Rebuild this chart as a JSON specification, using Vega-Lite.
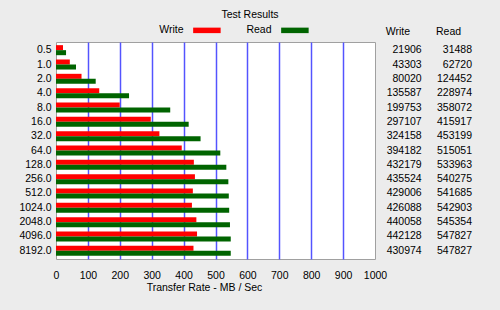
{
  "$schema": "https://vega.github.io/schema/vega-lite/v6.json",
  "width": 319,
  "height": 217,
  "autosize": {"type": "none"},
  "padding": {"left": 56, "top": 42, "right": 125, "bottom": 51},
  "background": "#ececec",
  "title": {"text": "Test Results", "anchor": "middle", "frame": "group", "dx": 34.5, "fontSize": 10.5, "fontWeight": "normal", "font": "Liberation Sans", "color": "black", "baseline": "middle", "offset": 0},
  "data": {"values": [
    {"size": "0.5", "series": "Write", "value": 21906}, {"size": "0.5", "series": "Read", "value": 31488},
    {"size": "1.0", "series": "Write", "value": 43303}, {"size": "1.0", "series": "Read", "value": 62720},
    {"size": "2.0", "series": "Write", "value": 80020}, {"size": "2.0", "series": "Read", "value": 124452},
    {"size": "4.0", "series": "Write", "value": 135587}, {"size": "4.0", "series": "Read", "value": 228974},
    {"size": "8.0", "series": "Write", "value": 199753}, {"size": "8.0", "series": "Read", "value": 358072},
    {"size": "16.0", "series": "Write", "value": 297107}, {"size": "16.0", "series": "Read", "value": 415917},
    {"size": "32.0", "series": "Write", "value": 324158}, {"size": "32.0", "series": "Read", "value": 453199},
    {"size": "64.0", "series": "Write", "value": 394182}, {"size": "64.0", "series": "Read", "value": 515051},
    {"size": "128.0", "series": "Write", "value": 432179}, {"size": "128.0", "series": "Read", "value": 533963},
    {"size": "256.0", "series": "Write", "value": 435524}, {"size": "256.0", "series": "Read", "value": 540275},
    {"size": "512.0", "series": "Write", "value": 429006}, {"size": "512.0", "series": "Read", "value": 541685},
    {"size": "1024.0", "series": "Write", "value": 426088}, {"size": "1024.0", "series": "Read", "value": 542903},
    {"size": "2048.0", "series": "Write", "value": 440058}, {"size": "2048.0", "series": "Read", "value": 545354},
    {"size": "4096.0", "series": "Write", "value": 442128}, {"size": "4096.0", "series": "Read", "value": 547827},
    {"size": "8192.0", "series": "Write", "value": 430974}, {"size": "8192.0", "series": "Read", "value": 547827}
  ]},
  "layer": [
    {
      "mark": {"type": "bar"},
      "encoding": {
        "y": {"field": "size", "type": "nominal",
          "sort": ["0.5","1.0","2.0","4.0","8.0","16.0","32.0","64.0","128.0","256.0","512.0","1024.0","2048.0","4096.0","8192.0"],
          "scale": {"paddingInner": 0.3, "paddingOuter": 0.22},
          "axis": {"title": null, "ticks": false, "domain": false, "grid": false, "labelPadding": 5, "labelFontSize": 10.5, "labelColor": "black", "labelFont": "Liberation Sans"}},
        "yOffset": {"field": "series", "type": "nominal", "sort": ["Write", "Read"], "scale": {"paddingInner": 0, "paddingOuter": 0}},
        "x": {"field": "value", "type": "quantitative",
          "scale": {"domain": [0, 1000000], "nice": false},
          "axis": {"title": "Transfer Rate - MB / Sec",
            "values": [0,100000,200000,300000,400000,500000,600000,700000,800000,900000,1000000],
            "labelExpr": "format(datum.value / 1000, 'd')",
            "ticks": false, "domain": false, "labelPadding": 11,
            "labelFontSize": 10.5, "labelColor": "black", "labelFont": "Liberation Sans", "labelFlush": false,
            "grid": true, "gridColor": "#5454ff", "gridWidth": 1.5,
            "gridOpacity": {"condition": {"test": "datum.value == 0 || datum.value == 1000000", "value": 0}, "value": 1},
            "titleX": 148, "titleY": 28, "titleAlign": "center", "titleBaseline": "middle",
            "titleFontWeight": "normal", "titleFontSize": 10.5, "titleColor": "black", "titleFont": "Liberation Sans"}},
        "color": {"field": "series", "type": "nominal", "sort": ["Write", "Read"],
          "scale": {"domain": ["Write", "Read"], "range": ["#ff0000", "#006400"]},
          "legend": {"orient": "none", "legendX": 119, "legendY": -17, "direction": "horizontal", "title": null,
            "symbolType": "M12.9,-2.75H40.4V2.75H12.9Z", "symbolSize": 4, "symbolStrokeWidth": 0,
            "labelAlign": "right", "labelOffset": -2, "columnPadding": 25, "padding": 0,
            "labelFontSize": 10.5, "labelFont": "Liberation Sans", "labelColor": "black"}}
      }
    },
    {
      "mark": {"type": "text", "align": "right", "baseline": "middle", "fontSize": 10.5, "font": "Liberation Sans", "color": "black"},
      "encoding": {
        "y": {"field": "size", "type": "nominal",
          "sort": ["0.5","1.0","2.0","4.0","8.0","16.0","32.0","64.0","128.0","256.0","512.0","1024.0","2048.0","4096.0","8192.0"]},
        "x": {"field": "series", "type": "nominal",
          "scale": {"type": "point", "domain": ["Write", "Read"], "range": [365.7, 416], "padding": 0},
          "axis": {"orient": "top", "title": null, "ticks": false, "domain": false, "grid": false,
            "labelAngle": 0, "labelAlign": "left", "labelOffset": -36.5, "labelPadding": 11, "labelBaseline": "middle",
            "labelOverlap": false, "labelFontSize": 10.5, "labelFont": "Liberation Sans", "labelColor": "black"}},
        "text": {"field": "value", "type": "quantitative", "format": "d"}
      }
    }
  ],
  "resolve": {"scale": {"x": "independent"}, "axis": {"x": "independent"}},
  "config": {"view": {"fill": "white", "stroke": "#a0a0a0", "strokeWidth": 1}}
}
